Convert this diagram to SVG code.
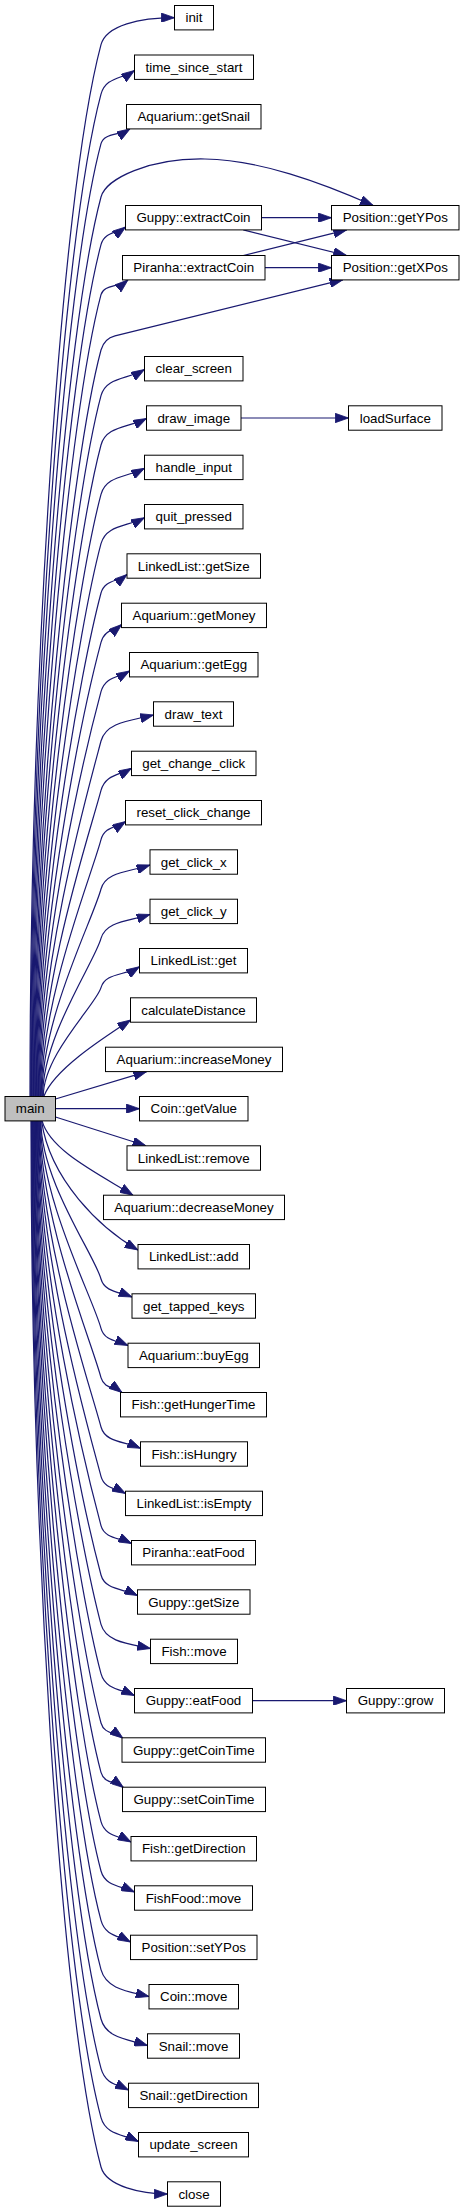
<svg xmlns="http://www.w3.org/2000/svg" width="464" height="2212" viewBox="0 0 464 2212">
<style>
.n rect{fill:#ffffff;stroke:#000000;stroke-width:1}
.n text{font-family:"Liberation Sans",Arial,Helvetica,sans-serif;font-size:13.33px;fill:#000000;text-anchor:middle}
.e path{fill:none;stroke:#191970;stroke-width:1.2;marker-end:url(#ah)}
</style>
<defs>
<marker id="ah" viewBox="0 0 13.3 9.4" refX="13.3" refY="4.7" markerWidth="13.3" markerHeight="9.4" markerUnits="userSpaceOnUse" orient="auto">
<path d="M0,0 L13.3,4.7 L0,9.4 Z" fill="#191970" stroke="#191970" stroke-width="0.8"/>
</marker>
</defs>
<rect x="0" y="0" width="464" height="2212" fill="#ffffff"/>
<g id="connectors" class="e">
<path d="M30,1096 C30,696.5 59,202.4 101,44.7 C106.3,25.1 140,17.7 174.5,17.7"/>
<path d="M30.7,1096 C30.7,715.3 60.9,244.5 101,94.2 C105.7,76.9 122.1,79.1 134.5,70.5"/>
<path d="M31.4,1096 C31.4,734.1 62.9,286.5 101,143.7 C104,132.9 119,135.8 130,128.9"/>
<path d="M32.1,1096 C32.1,754.4 65,331.9 101,197 C106,178.3 150,158 205,159 C260,160 320,182 373.3,205.5"/>
<path d="M32.8,1096 C32.8,772.5 67,372.4 101,244.7 C104.5,231.8 116.7,233.7 125.6,227"/>
<path d="M33.5,1096 C33.5,791.5 69,414.9 101,294.7 C104,283.9 118.7,287.8 128,279.9"/>
<path d="M34.2,1096 C34.2,812.5 71.2,461.9 101,350 C103.5,341 108,337.5 115,335.8 L343,279.7"/>
<path d="M34.9,1096 C34.9,829.9 73,500.7 101,395.7 C106.2,376.6 127.8,379.7 144.5,369.5"/>
<path d="M35.6,1096 C35.6,848.6 75,542.7 101,445 C106.3,425.7 128.3,427.9 146.5,418.5"/>
<path d="M36.3,1096 C36.3,867.4 76.9,584.6 101,494.4 C106.2,475.3 127.3,477.5 144.5,468.3"/>
<path d="M37,1096 C37,886.1 78.9,626.5 101,543.7 C106.2,524.7 127.3,526.9 144.5,517.7"/>
<path d="M37.7,1096 C37.7,904.9 80.9,668.5 101,593 C104.7,579.5 117.9,581.9 127,574.5"/>
<path d="M38.4,1096 C38.4,923.6 82.9,710.4 101,642.4 C104.6,629.3 114.6,630.5 121.7,624.5"/>
<path d="M39.1,1096 C39.1,942.4 84.8,752.3 101,691.7 C105.1,676.6 118.5,677.5 129.5,671"/>
<path d="M39.8,1096 C39.8,961.1 86.8,794.3 101,741 C106.2,722 130.6,720.7 153.5,715"/>
<path d="M40.5,1096 C40.5,979.9 88.8,836.2 101,790.4 C105.4,774.3 119.7,775.3 131.5,768.3"/>
<path d="M41.2,1096 C41.2,998.6 90.7,878.1 101,839.7 C104.6,826.4 116.5,827.6 125.7,821.5"/>
<path d="M41.9,1096 C41.9,1017.3 92.7,920 101,889 C105.8,871.5 129.1,872 150,865"/>
<path d="M42.6,1096 C42.6,1036.1 94.7,962 101,938.4 C105.8,921 129.1,921.1 150,914.5"/>
<path d="M43.3,1096 C43.3,1054.8 96.7,1003.9 101,987.7 C105.2,972.4 125,976 139.5,966.7"/>
<path d="M44,1096 C54,1070 100,1040 130.7,1020"/>
<path d="M55.5,1099 L146.7,1071.6"/>
<path d="M55.5,1108.7 L139.5,1108.7"/>
<path d="M55.5,1117 L146,1145.8"/>
<path d="M42,1120.7 C50,1150 95,1172 133,1195.2"/>
<path d="M41.5,1120.7 C50,1180 100,1228 138,1250"/>
<path d="M40.9,1120.7 C40.9,1180.9 94.7,1255.3 101,1279 C104.6,1292.1 119.1,1291.7 132,1297"/>
<path d="M40.4,1120.7 C40.4,1199.6 92.7,1297.2 101,1328.4 C104.4,1340.9 116.9,1340.5 128,1345.5"/>
<path d="M39.8,1120.7 C39.8,1218.4 90.7,1339.1 101,1377.7 C104,1388.5 114.4,1386.8 122,1392.5"/>
<path d="M39.2,1120.7 C39.2,1237.1 88.7,1381.1 101,1427 C105.3,1442.5 124.1,1441.2 140.5,1448.3"/>
<path d="M38.7,1120.7 C38.7,1255.9 86.8,1423 101,1476.4 C104.4,1488.9 115.9,1488.1 125.5,1493.5"/>
<path d="M38.1,1120.7 C38.1,1274.6 84.8,1464.9 101,1525.7 C104.6,1538.7 119.2,1537.5 131.5,1543.5"/>
<path d="M37.6,1120.7 C37.6,1293.3 82.8,1506.9 101,1575 C105.1,1590 122.7,1588.4 137.5,1595.5"/>
<path d="M37,1120.7 C37,1312.1 80.9,1548.8 101,1624.4 C105.8,1642 128.6,1643.8 150.5,1648.5"/>
<path d="M36.5,1120.7 C36.5,1330.8 78.9,1590.7 101,1673.7 C105.4,1689.6 120.9,1689.2 134.5,1695.5"/>
<path d="M35.9,1120.7 C35.9,1349.6 76.9,1632.7 101,1723 C104,1734.1 115.1,1732.3 123,1738.2"/>
<path d="M35.4,1120.7 C35.4,1368.3 74.9,1674.6 101,1772.4 C104,1783.5 115.4,1781.5 123.5,1787.6"/>
<path d="M34.8,1120.7 C34.8,1387.1 73,1716.5 101,1821.7 C105.1,1836.5 119.1,1835.5 131,1842"/>
<path d="M34.3,1120.7 C34.3,1405.8 71,1758.5 101,1871 C105.2,1886.3 120.9,1885.7 134.5,1892"/>
<path d="M33.7,1120.7 C33.7,1424.6 69,1800.4 101,1920.4 C105.3,1936.2 118.8,1935.6 130.5,1942"/>
<path d="M33.2,1120.7 C33.2,1443.3 67,1842.3 101,1969.7 C106.4,1989.3 128,1991.3 149,1996.5"/>
<path d="M32.6,1120.7 C32.6,1462.1 65.1,1884.3 101,2019 C106.3,2038.3 127.6,2039.2 147.5,2045.5"/>
<path d="M32.1,1120.7 C32.1,1480.8 63.1,1926.2 101,2068.4 C105.3,2084.2 117.3,2084.5 128.5,2090"/>
<path d="M31.5,1120.7 C31.5,1499.6 61.1,1968.1 101,2117.7 C105.8,2135.1 123.3,2134.2 138.5,2141.5"/>
<path d="M31,1120.7 C31,1518.3 59.1,2010.1 101,2167 C106.4,2186.7 142.5,2194 167.5,2194"/>
<path d="M261.5,217.7 L331.5,217.7"/>
<path d="M243.3,229.9 L346.7,255.5"/>
<path d="M265,267.7 L331.5,267.7"/>
<path d="M243.3,255.5 L346.7,229.9"/>
<path d="M241,418 L348.5,418"/>
<path d="M252.5,1700.7 L346.5,1700.7"/>
</g>
<g id="n_main" class="n"><rect x="5" y="1096.5" width="50.5" height="24.4" style="fill:#bfbfbf"/><text x="30.25" y="1113.3">main</text></g>
<g id="n_init" class="n"><rect x="174.5" y="5.5" width="39" height="24.4"/><text x="194" y="22.3">init</text></g>
<g id="n_time_since_start" class="n"><rect x="134.5" y="55" width="119" height="24.4"/><text x="194" y="71.8">time_since_start</text></g>
<g id="n_aquarium_getsnail" class="n"><rect x="126.5" y="104.5" width="134.5" height="24.4"/><text x="193.75" y="121.3">Aquarium::getSnail</text></g>
<g id="n_guppy_extractcoin" class="n"><rect x="125.5" y="205.5" width="136" height="24.4"/><text x="193.5" y="222.3">Guppy::extractCoin</text></g>
<g id="n_piranha_extractcoin" class="n"><rect x="122.5" y="255.5" width="142.5" height="24.4"/><text x="193.75" y="272.3">Piranha::extractCoin</text></g>
<g id="n_position_getypos" class="n"><rect x="331.5" y="205.5" width="127.5" height="24.4"/><text x="395.25" y="222.3">Position::getYPos</text></g>
<g id="n_position_getxpos" class="n"><rect x="331.5" y="255.5" width="127.5" height="24.4"/><text x="395.25" y="272.3">Position::getXPos</text></g>
<g id="n_clear_screen" class="n"><rect x="144.5" y="356.5" width="98.5" height="24.4"/><text x="193.75" y="373.3">clear_screen</text></g>
<g id="n_draw_image" class="n"><rect x="146.5" y="405.8" width="94.5" height="24.4"/><text x="193.75" y="422.6">draw_image</text></g>
<g id="n_loadsurface" class="n"><rect x="348.5" y="405.8" width="93.5" height="24.4"/><text x="395.25" y="422.6">loadSurface</text></g>
<g id="n_handle_input" class="n"><rect x="144.5" y="455.2" width="98.5" height="24.4"/><text x="193.75" y="472">handle_input</text></g>
<g id="n_quit_pressed" class="n"><rect x="144.5" y="504.5" width="98.5" height="24.4"/><text x="193.75" y="521.3">quit_pressed</text></g>
<g id="n_linkedlist_getsize" class="n"><rect x="127" y="553.8" width="133.5" height="24.4"/><text x="193.75" y="570.6">LinkedList::getSize</text></g>
<g id="n_aquarium_getmoney" class="n"><rect x="121.5" y="603.2" width="145" height="24.4"/><text x="194" y="620">Aquarium::getMoney</text></g>
<g id="n_aquarium_getegg" class="n"><rect x="129.5" y="652.5" width="128.5" height="24.4"/><text x="193.75" y="669.3">Aquarium::getEgg</text></g>
<g id="n_draw_text" class="n"><rect x="153.5" y="701.8" width="80" height="24.4"/><text x="193.5" y="718.6">draw_text</text></g>
<g id="n_get_change_click" class="n"><rect x="131.5" y="751.2" width="124.5" height="24.4"/><text x="193.75" y="768">get_change_click</text></g>
<g id="n_reset_click_change" class="n"><rect x="125.5" y="800.5" width="136" height="24.4"/><text x="193.5" y="817.3">reset_click_change</text></g>
<g id="n_get_click_x" class="n"><rect x="150" y="849.8" width="87.5" height="24.4"/><text x="193.75" y="866.6">get_click_x</text></g>
<g id="n_get_click_y" class="n"><rect x="150" y="899.2" width="87.5" height="24.4"/><text x="193.75" y="916">get_click_y</text></g>
<g id="n_linkedlist_get" class="n"><rect x="139.5" y="948.5" width="108" height="24.4"/><text x="193.5" y="965.3">LinkedList::get</text></g>
<g id="n_calculatedistance" class="n"><rect x="130.5" y="997.8" width="126" height="24.4"/><text x="193.5" y="1014.6">calculateDistance</text></g>
<g id="n_aquarium_increasemoney" class="n"><rect x="105.5" y="1047.2" width="177" height="24.4"/><text x="194" y="1064">Aquarium::increaseMoney</text></g>
<g id="n_coin_getvalue" class="n"><rect x="139.5" y="1096.5" width="108.5" height="24.4"/><text x="193.75" y="1113.3">Coin::getValue</text></g>
<g id="n_linkedlist_remove" class="n"><rect x="127" y="1145.8" width="133.5" height="24.4"/><text x="193.75" y="1162.6">LinkedList::remove</text></g>
<g id="n_aquarium_decreasemoney" class="n"><rect x="103.5" y="1195.2" width="181" height="24.4"/><text x="194" y="1212">Aquarium::decreaseMoney</text></g>
<g id="n_linkedlist_add" class="n"><rect x="138" y="1244.5" width="111.5" height="24.4"/><text x="193.75" y="1261.3">LinkedList::add</text></g>
<g id="n_get_tapped_keys" class="n"><rect x="132" y="1293.8" width="123.5" height="24.4"/><text x="193.75" y="1310.6">get_tapped_keys</text></g>
<g id="n_aquarium_buyegg" class="n"><rect x="128" y="1343.2" width="131.5" height="24.4"/><text x="193.75" y="1360">Aquarium::buyEgg</text></g>
<g id="n_fish_gethungertime" class="n"><rect x="120.5" y="1392.5" width="146" height="24.4"/><text x="193.5" y="1409.3">Fish::getHungerTime</text></g>
<g id="n_fish_ishungry" class="n"><rect x="140.5" y="1441.8" width="107" height="24.4"/><text x="194" y="1458.6">Fish::isHungry</text></g>
<g id="n_linkedlist_isempty" class="n"><rect x="125.5" y="1491.2" width="137" height="24.4"/><text x="194" y="1508">LinkedList::isEmpty</text></g>
<g id="n_piranha_eatfood" class="n"><rect x="131.5" y="1540.5" width="124" height="24.4"/><text x="193.5" y="1557.3">Piranha::eatFood</text></g>
<g id="n_guppy_getsize" class="n"><rect x="137.5" y="1589.8" width="112.5" height="24.4"/><text x="193.75" y="1606.6">Guppy::getSize</text></g>
<g id="n_fish_move" class="n"><rect x="150.5" y="1639.2" width="87" height="24.4"/><text x="194" y="1656">Fish::move</text></g>
<g id="n_guppy_eatfood" class="n"><rect x="134.5" y="1688.5" width="118" height="24.4"/><text x="193.5" y="1705.3">Guppy::eatFood</text></g>
<g id="n_guppy_grow" class="n"><rect x="346.5" y="1688.5" width="98" height="24.4"/><text x="395.5" y="1705.3">Guppy::grow</text></g>
<g id="n_guppy_getcointime" class="n"><rect x="122" y="1737.8" width="143.5" height="24.4"/><text x="193.75" y="1754.6">Guppy::getCoinTime</text></g>
<g id="n_guppy_setcointime" class="n"><rect x="122.5" y="1787.2" width="143" height="24.4"/><text x="194" y="1804">Guppy::setCoinTime</text></g>
<g id="n_fish_getdirection" class="n"><rect x="131" y="1836.5" width="125.5" height="24.4"/><text x="193.75" y="1853.3">Fish::getDirection</text></g>
<g id="n_fishfood_move" class="n"><rect x="134.5" y="1885.8" width="118" height="24.4"/><text x="193.5" y="1902.6">FishFood::move</text></g>
<g id="n_position_setypos" class="n"><rect x="130.5" y="1935.2" width="126.5" height="24.4"/><text x="193.75" y="1952">Position::setYPos</text></g>
<g id="n_coin_move" class="n"><rect x="149" y="1984.5" width="89.5" height="24.4"/><text x="193.75" y="2001.3">Coin::move</text></g>
<g id="n_snail_move" class="n"><rect x="147.5" y="2033.8" width="92" height="24.4"/><text x="193.5" y="2050.6">Snail::move</text></g>
<g id="n_snail_getdirection" class="n"><rect x="128.5" y="2083.2" width="130" height="24.4"/><text x="193.5" y="2100">Snail::getDirection</text></g>
<g id="n_update_screen" class="n"><rect x="138.5" y="2132.5" width="110" height="24.4"/><text x="193.5" y="2149.3">update_screen</text></g>
<g id="n_close" class="n"><rect x="167.5" y="2181.8" width="53" height="24.4"/><text x="194" y="2198.6">close</text></g>
</svg>
